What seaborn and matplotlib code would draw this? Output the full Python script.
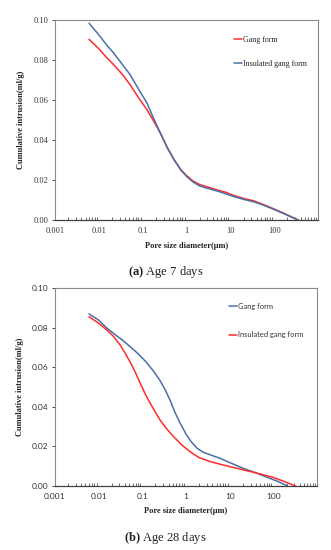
import matplotlib
matplotlib.use("Agg")
import matplotlib.pyplot as plt
import matplotlib.ticker as mticker
import seaborn as sns
import pandas as pd

# (a) Age 7 days
a_gang_x = [0.006, 0.01, 0.015, 0.022, 0.035, 0.052, 0.08, 0.126, 0.18, 0.255, 0.36, 0.52, 0.75,
            1.0, 1.4, 2.0, 3, 5, 8, 12, 20, 35, 60, 100, 180, 350]
a_gang_y = [0.0903, 0.0855, 0.0812, 0.0775, 0.0725, 0.0675, 0.0612, 0.055, 0.0492, 0.0433, 0.0365,
            0.0302, 0.0250, 0.0222, 0.0195, 0.0177, 0.0165, 0.0150, 0.0138, 0.0122, 0.0108, 0.0095,
            0.0075, 0.0055, 0.0030, 0.0]
a_ins_x = [0.006, 0.01, 0.015, 0.022, 0.035, 0.052, 0.08, 0.126, 0.18, 0.255, 0.36, 0.52, 0.75,
           1.0, 1.4, 2.0, 3, 5, 8, 12, 20, 35, 60, 100, 180, 350]
a_ins_y = [0.0983, 0.0925, 0.0875, 0.0833, 0.0775, 0.0725, 0.0655, 0.0583, 0.0505, 0.0433, 0.0362,
           0.0300, 0.0248, 0.0218, 0.0190, 0.0170, 0.0158, 0.0145, 0.0130, 0.0117, 0.0103, 0.0090,
           0.0072, 0.0052, 0.0028, 0.0]

# (b) Age 28 days
b_gang_x = [0.006, 0.01, 0.015, 0.022, 0.035, 0.05, 0.08, 0.12, 0.18, 0.25, 0.33, 0.43, 0.55, 0.73,
            1.0, 1.3, 1.8, 2.5, 3.6, 6, 10, 20, 40, 70, 120, 210]
b_gang_y = [0.0869, 0.0838, 0.0800, 0.0770, 0.0737, 0.0708, 0.0668, 0.0628, 0.0580, 0.0535, 0.0488,
            0.0434, 0.0375, 0.0318, 0.0262, 0.0225, 0.0190, 0.0170, 0.0157, 0.0140, 0.0118, 0.0090,
            0.0066, 0.0045, 0.0025, 0.0]
b_ins_x = [0.006, 0.01, 0.015, 0.022, 0.031, 0.04, 0.052, 0.07, 0.089, 0.115, 0.15, 0.2, 0.255, 0.35,
           0.52, 0.8, 1.24, 2.0, 3.6, 6, 10, 20, 30, 60, 100, 180, 320]
b_ins_y = [0.0855, 0.0822, 0.0790, 0.0755, 0.0712, 0.0672, 0.0628, 0.0572, 0.0520, 0.0467, 0.0419,
           0.0372, 0.0333, 0.0292, 0.0249, 0.0207, 0.0173, 0.0143, 0.0123, 0.0110, 0.0098, 0.0082,
           0.0073, 0.0056, 0.0043, 0.0022, 0.0]

x_ticks = [0.001, 0.01, 0.1, 1, 10, 100]
x_labels = ["0.001", "0.01", "0.1", "1", "10", "100"]
y_ticks = [0.0, 0.02, 0.04, 0.06, 0.08, 0.10]

RED = "#FF2B2B"
BLUE = "#4A6FA8"

sns.set_theme(style="white")
plt.rcParams["font.family"] = ["Liberation Serif", "DejaVu Serif"]
plt.rcParams["mathtext.fontset"] = "custom"
plt.rcParams["mathtext.rm"] = "Liberation Serif"
plt.rcParams["mathtext.bf"] = "Liberation Serif:bold"

fig = plt.figure(figsize=(3.31, 5.5), dpi=100)
ax1 = fig.add_axes([0.166, 0.600, 0.795, 0.364])
ax2 = fig.add_axes([0.166, 0.1164, 0.792, 0.360])


def long_df(x, y, name):
    return pd.DataFrame({"x": x, "y": y, "series": name})


def style_axes(ax, tick_font):
    ax.set_xscale("log")
    ax.set_xlim(0.001, 1000)
    ax.set_ylim(0, 0.10)
    ax.set_xticks(x_ticks)
    ax.set_xticklabels(x_labels)
    ax.xaxis.set_minor_locator(mticker.LogLocator(base=10, subs=range(2, 10)))
    ax.xaxis.set_minor_formatter(mticker.NullFormatter())
    ax.set_yticks(y_ticks)
    ax.set_yticklabels([f"{v:.2f}" for v in y_ticks])
    ax.tick_params(axis="x", which="major", direction="in", length=2.5, width=0.6,
                   color="#333333", pad=5, labelsize=6)
    ax.tick_params(axis="x", which="minor", direction="in", length=2, width=0.5,
                   color="#333333", bottom=True)
    ax.tick_params(axis="y", direction="out", length=2.5, width=0.6, color="#333333",
                   pad=2, labelsize=6, left=True)
    for lab in ax.get_xticklabels() + ax.get_yticklabels():
        lab.set_fontfamily(tick_font)
        lab.set_color("#333333")
    for side in ["top", "right", "left"]:
        ax.spines[side].set_color("#8a8a8a")
        ax.spines[side].set_linewidth(0.8)
    ax.spines["bottom"].set_color("#404040")
    ax.spines["bottom"].set_linewidth(0.9)
    ax.set_xlabel("Pore size diameter(\u03bcm)", fontsize=6, fontweight="bold",
                  fontfamily="Liberation Serif", labelpad=5, color="#222222")
    ax.set_ylabel("Cumulative intrusion(ml/g)", fontsize=6, fontweight="bold",
                  fontfamily="Liberation Serif", labelpad=6, color="#222222")
    ax.grid(False)


# panel (a)
df_a = pd.concat([long_df(a_gang_x, a_gang_y, "Gang form"),
                  long_df(a_ins_x, a_ins_y, "Insulated gang form")])
sns.lineplot(data=df_a, x="x", y="y", hue="series", palette=[RED, BLUE],
             estimator=None, sort=False, linewidth=1.1, ax=ax1)
style_axes(ax1, "Liberation Serif")
leg = ax1.legend(loc="upper left", bbox_to_anchor=(0.655, 0.955), frameon=False,
                 handlelength=1.0, handletextpad=0.1, labelspacing=2.0,
                 prop={"family": "Liberation Serif", "size": 5.7})
for t in leg.get_texts():
    t.set_color("#222222")

# panel (b)
df_b = pd.concat([long_df(b_gang_x, b_gang_y, "Gang form"),
                  long_df(b_ins_x, b_ins_y, "Insulated gang form")])
sns.lineplot(data=df_b, x="x", y="y", hue="series", palette=[BLUE, RED],
             estimator=None, sort=False, linewidth=1.1, ax=ax2)
style_axes(ax2, "Lato")
leg = ax2.legend(loc="upper left", bbox_to_anchor=(0.64, 0.96), frameon=False,
                 handlelength=1.0, handletextpad=0.1, labelspacing=2.9,
                 prop={"family": "Lato", "size": 5.4})
for t in leg.get_texts():
    t.set_color("#333333")

fig.text(0.5, 0.505, r"$\mathbf{(a)}$ Age 7 days", ha="center", va="center",
         fontsize=9, color="#222222")
fig.text(0.5, 0.022, r"$\mathbf{(b)}$ Age 28 days", ha="center", va="center",
         fontsize=9, color="#222222")

fig.savefig("out.png", dpi=100, facecolor="white")
